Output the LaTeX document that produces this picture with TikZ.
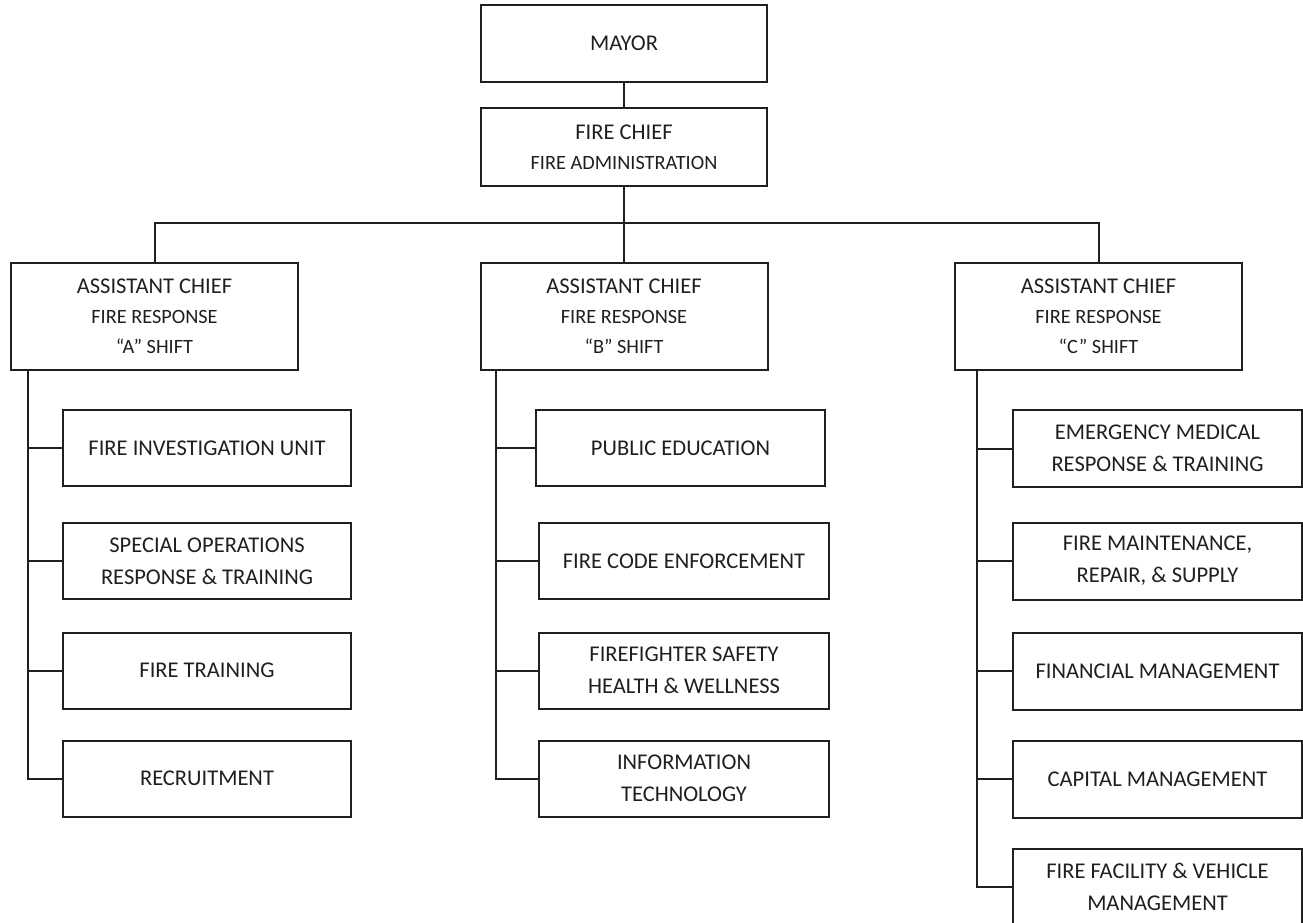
\documentclass[tikz,border=0pt]{standalone}
\usepackage{fontspec}
\setmainfont{Carlito}
\newcommand{\mainsz}{\fontsize{22.5}{32}\selectfont}
\newcommand{\subsz}{\fontsize{20.3}{30}\selectfont}
\tikzset{
  boxstyle/.style={draw=black!88, line width=2pt, inner sep=0pt, align=center,
    text=black!88, font=\mainsz},
  topbox/.style={boxstyle, minimum width=286pt, minimum height=77pt, font=\subsz},
  asstbox/.style={boxstyle, minimum width=287pt, minimum height=107pt, font=\subsz},
  childbox/.style={boxstyle, minimum width=289pt, minimum height=76pt},
  link/.style={draw=black!88, line width=2pt}
}
\begin{document}
\begin{tikzpicture}[x=1pt,y=-1pt]
\path[use as bounding box] (0,0) rectangle (1303,922);
\clip (0,0) rectangle (1303,922);

% top
\node[topbox] (mayor) at (624,43.5) {{\mainsz MAYOR}};
\node[topbox, minimum height=78pt] (chief) at (624,147) {{\mainsz FIRE CHIEF}\\FIRE ADMINISTRATION};

% assistant chiefs
\node[asstbox] (aA) at (154.5,316.5) {{\mainsz ASSISTANT CHIEF}\\FIRE RESPONSE\\“A” SHIFT};
\node[asstbox] (aB) at (624,316.5) {{\mainsz ASSISTANT CHIEF}\\FIRE RESPONSE\\“B” SHIFT};
\node[asstbox] (aC) at (1098.5,316.5) {{\mainsz ASSISTANT CHIEF}\\FIRE RESPONSE\\“C” SHIFT};

% A children
\node[childbox, minimum width=288pt] (a1) at (207,448) {FIRE INVESTIGATION UNIT};
\node[childbox, minimum width=288pt] (a2) at (207,561) {SPECIAL OPERATIONS\\RESPONSE \& TRAINING};
\node[childbox, minimum width=288pt] (a3) at (207,670.5) {FIRE TRAINING};
\node[childbox, minimum width=288pt] (a4) at (207,778.5) {RECRUITMENT};

% B children
\node[childbox] (b1) at (680.5,448) {PUBLIC EDUCATION};
\node[childbox, minimum width=290pt] (b2) at (684,561) {FIRE CODE ENFORCEMENT};
\node[childbox, minimum width=290pt] (b3) at (684,670.5) {FIREFIGHTER SAFETY\\HEALTH \& WELLNESS};
\node[childbox, minimum width=290pt] (b4) at (684,778.5) {INFORMATION\\TECHNOLOGY};

% C children
\node[childbox, minimum height=77pt] (c1) at (1157.5,448.5) {EMERGENCY MEDICAL\\RESPONSE \& TRAINING};
\node[childbox, minimum height=77pt] (c2) at (1157.5,561) {FIRE MAINTENANCE,\\REPAIR, \& SUPPLY};
\node[childbox, minimum height=77pt] (c3) at (1157.5,671) {FINANCIAL MANAGEMENT};
\node[childbox, minimum height=77pt] (c4) at (1157.5,779) {CAPITAL MANAGEMENT};
\node[childbox, minimum height=77pt] (c5) at (1157.5,887) {FIRE FACILITY \& VEHICLE\\MANAGEMENT};

% hierarchy connectors
\coordinate (hub) at (chief.south |- 0,223);
\draw[link] (mayor.south) -- (chief.north);
\draw[link] (chief.south) -- (hub);
\draw[link] (aA.north) |- (hub) -| (aC.north);
\draw[link] (hub) -- (aB.north);

% spines
\coordinate (spA) at ([xshift=18pt]aA.south west);
\coordinate (spB) at ([xshift=16.5pt]aB.south west);
\coordinate (spC) at ([xshift=22.5pt]aC.south west);

\draw[link] (spA) |- (a4.west);
\foreach \n in {a1,a2,a3} \draw[link] (spA |- \n.west) -- (\n.west);

\draw[link] (spB) |- (b4.west);
\foreach \n in {b1,b2,b3} \draw[link] (spB |- \n.west) -- (\n.west);

\draw[link] (spC) |- (c5.west);
\foreach \n in {c1,c2,c3,c4} \draw[link] (spC |- \n.west) -- (\n.west);
\end{tikzpicture}
\end{document}
